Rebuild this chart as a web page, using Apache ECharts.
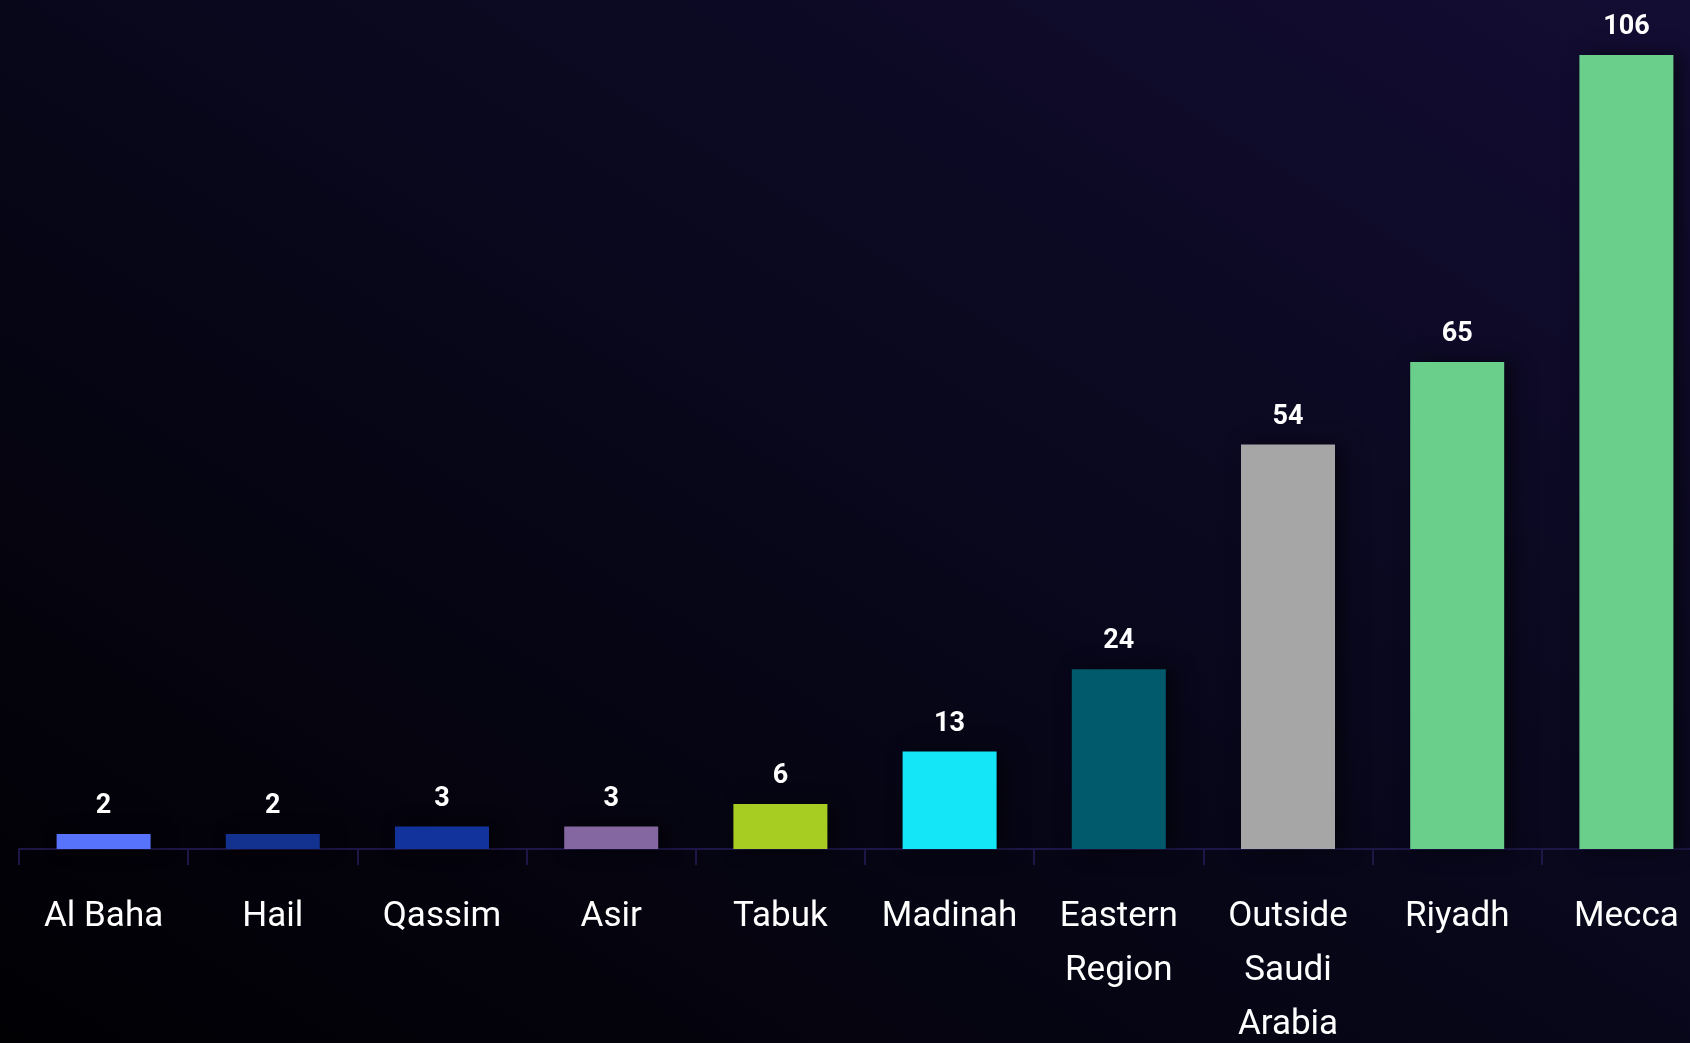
<!DOCTYPE html>
<html>
<head>
<meta charset="utf-8">
<script src="https://cdn.jsdelivr.net/npm/echarts@6/dist/echarts.min.js"></script>
<style>
  html, body { margin: 0; padding: 0; overflow: hidden; background: #05040f; }
  #chart { width: 1690px; height: 1043px; }
</style>
</head>
<body>
<div id="chart"></div>
<script>
// regions, sorted smallest to largest
const regions = ['Al Baha', 'Hail', 'Qassim', 'Asir', 'Tabuk', 'Madinah', 'Eastern Region', 'Outside Saudi Arabia', 'Riyadh', 'Mecca'];
const counts = [2, 2, 3, 3, 6, 13, 24, 54, 65, 106];
const barColors = ['#5773fb', '#13318f', '#12339b', '#8466a0', '#a8cd22', '#14e6f8', '#015a6c', '#a6a6a6', '#6acf8a', '#6acf8a'];

const myChart = echarts.init(document.getElementById('chart'));

// wrap words greedily, max ~8 chars per line
function wrapLabel(text) {
  const lines = [];
  text.split(' ').forEach(w => {
    const last = lines[lines.length - 1];
    if (last !== undefined && (last + ' ' + w).length <= 8) {
      lines[lines.length - 1] = last + ' ' + w;
    } else {
      lines.push(w);
    }
  });
  return lines.join('\n');
}

// diagonal background, top right (light) to bottom left (dark), corners TL/BR equal
const bg = new echarts.graphic.LinearGradient(1311, -234, 379, 1277, [
  { offset: 0, color: '#130d33' },
  { offset: 0.5, color: '#08071a' },
  { offset: 1, color: '#010003' }
], true);

const option = {
  animation: false,
  backgroundColor: bg,
  grid: {
    left: 19,
    right: -21,
    top: 55,
    bottom: 194,
    containLabel: false,
    outerBoundsMode: 'none'
  },
  xAxis: {
    type: 'category',
    data: regions,
    axisLine: {
      show: true,
      lineStyle: { color: '#1e1646', width: 2 }
    },
    axisTick: {
      show: true,
      length: 16,
      lineStyle: { color: '#1e1646', width: 2 }
    },
    axisLabel: {
      color: '#ffffff',
      fontFamily: 'Roboto',
      fontSize: 35,
      lineHeight: 54,
      margin: 41,
      interval: 0,
      hideOverlap: false,
      formatter: wrapLabel
    }
  },
  yAxis: {
    type: 'value',
    min: 0,
    max: 'dataMax',
    show: false,
    splitLine: { show: false }
  },
  series: [
    {
      type: 'bar',
      barWidth: 94,
      data: counts.map((v, i) => ({
        value: v,
        itemStyle: { color: barColors[i] }
      })),
      itemStyle: {
        shadowColor: 'rgba(0, 0, 0, 0.55)',
        shadowBlur: 18,
        shadowOffsetX: 8,
        shadowOffsetY: 0
      },
      label: {
        show: true,
        position: 'top',
        distance: 14,
        color: '#ffffff',
        fontFamily: 'Roboto',
        fontWeight: 'bold',
        fontSize: 27
      }
    }
  ]
};

myChart.setOption(option);
</script>
</body>
</html>
